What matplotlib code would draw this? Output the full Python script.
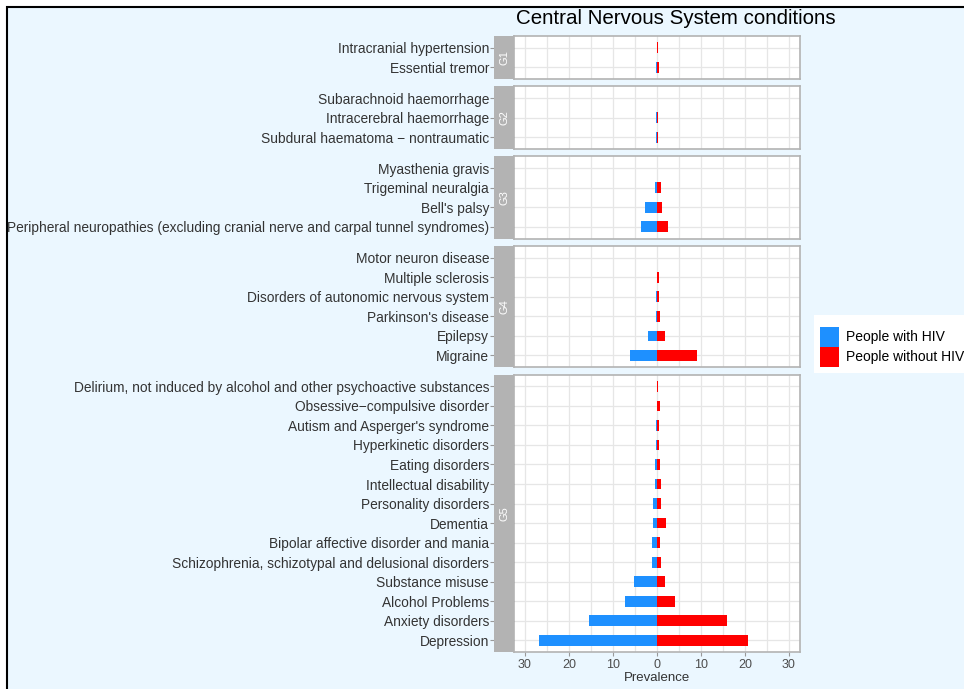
import matplotlib.pyplot as plt
from matplotlib.patches import Rectangle

plt.rcParams['font.family'] = ['Liberation Sans', 'DejaVu Sans']

# --- Data (prevalence, %) ---
groups = ['G1', 'G2', 'G3', 'G4', 'G5']

g1_labels = ['Intracranial hypertension', 'Essential tremor']
g1_hiv = [0.05, 0.2]
g1_nohiv = [0.15, 0.4]

g2_labels = ['Subarachnoid haemorrhage', 'Intracerebral haemorrhage',
             'Subdural haematoma \u2212 nontraumatic']
g2_hiv = [0.03, 0.2, 0.2]
g2_nohiv = [0.1, 0.15, 0.15]

g3_labels = ['Myasthenia gravis', 'Trigeminal neuralgia', "Bell's palsy",
             'Peripheral neuropathies (excluding cranial nerve and carpal tunnel syndromes)']
g3_hiv = [0.03, 0.5, 2.7, 3.6]
g3_nohiv = [0.1, 1.0, 1.1, 2.4]

g4_labels = ['Motor neuron disease', 'Multiple sclerosis',
             'Disorders of autonomic nervous system', "Parkinson's disease",
             'Epilepsy', 'Migraine']
g4_hiv = [0.05, 0.05, 0.2, 0.2, 2.0, 6.1]
g4_nohiv = [0.05, 0.45, 0.45, 0.7, 1.9, 9.0]

g5_labels = ['Delirium, not induced by alcohol and other psychoactive substances',
             'Obsessive\u2212compulsive disorder', "Autism and Asperger's syndrome",
             'Hyperkinetic disorders', 'Eating disorders', 'Intellectual disability',
             'Personality disorders', 'Dementia', 'Bipolar affective disorder and mania',
             'Schizophrenia, schizotypal and delusional disorders', 'Substance misuse',
             'Alcohol Problems', 'Anxiety disorders', 'Depression']
g5_hiv = [0.05, 0.1, 0.3, 0.25, 0.45, 0.45, 0.8, 0.8, 1.1, 1.2, 5.2, 7.3, 15.5, 26.9]
g5_nohiv = [0.15, 0.7, 0.45, 0.45, 0.6, 1.0, 0.8, 2.0, 0.6, 1.0, 1.9, 4.2, 15.8, 20.6]

panels = [
    (g1_labels, g1_hiv, g1_nohiv),
    (g2_labels, g2_hiv, g2_nohiv),
    (g3_labels, g3_hiv, g3_nohiv),
    (g4_labels, g4_hiv, g4_nohiv),
    (g5_labels, g5_hiv, g5_nohiv),
]

blue = '#1E90FF'
red = '#FF0000'
bg = '#EBF7FF'
border = '#B3B3B3'
grid_c = '#E6E6E6'

fig = plt.figure(figsize=(9.64, 6.89), dpi=100, facecolor='white')
fig.patches.append(Rectangle((7 / 964, -0.01), 1.0, 1 - 7 / 689 + 0.01,
                             transform=fig.transFigure, facecolor=bg,
                             edgecolor='black', linewidth=1.5, zorder=-10))

heights = [len(p[0]) + 0.2 for p in panels]
gs = fig.add_gridspec(len(panels), 1, height_ratios=heights,
                      left=514 / 964, right=800 / 964,
                      top=1 - 36 / 689, bottom=1 - 652 / 689, hspace=0.064)

for i, (labels, hiv, nohiv) in enumerate(panels):
    ax = fig.add_subplot(gs[i])
    n = len(labels)
    pos = list(range(n))
    ax.barh(pos, [-v for v in hiv], height=0.55, color=blue, zorder=3)
    ax.barh(pos, nohiv, height=0.55, color=red, zorder=3)
    ax.set_xlim(-32.5, 32.5)
    ax.set_ylim(n - 0.4, -0.6)
    ax.set_yticks(pos)
    ax.set_yticklabels(labels, fontsize=9.9, color='#333333')
    ax.set_xticks([-30, -20, -10, 0, 10, 20, 30])
    ax.set_xticks([-25, -15, -5, 5, 15, 25], minor=True)
    ax.grid(True, which='both', axis='x', color=grid_c, linewidth=0.9, zorder=0)
    ax.grid(True, which='major', axis='y', color=grid_c, linewidth=0.9, zorder=0)
    ax.set_axisbelow(True)
    for sp in ax.spines.values():
        sp.set_color(border)
        sp.set_linewidth(1.2)
    # long ticks, partly hidden under the strip
    ax.tick_params(axis='y', length=17, color='#999999', pad=1)
    ax.tick_params(axis='x', which='minor', length=0)
    if i < len(panels) - 1:
        ax.tick_params(axis='x', which='major', length=0, labelbottom=False)
    else:
        ax.set_xticklabels(['30', '20', '10', '0', '10', '20', '30'])
        ax.tick_params(axis='x', which='major', length=3, color='#999999',
                       labelsize=9, labelcolor='#4D4D4D', pad=2)
        ax.set_xlabel('Prevalence', fontsize=9.5, color='#333333', labelpad=1)
    # strip on the left
    strip_w = 20 / 286
    ax.add_patch(Rectangle((-strip_w, 0), strip_w, 1, transform=ax.transAxes,
                           facecolor='#B3B3B3', edgecolor='none', clip_on=False, zorder=5))
    ax.text(-strip_w / 2, 0.5, groups[i], transform=ax.transAxes, rotation=90,
            ha='center', va='center', color='white', fontsize=8, zorder=6)

fig.text(676 / 964, 1 - 19 / 689, 'Central Nervous System conditions',
         ha='center', va='center', fontsize=14.8, color='black')

# legend
fig.patches.append(Rectangle((814 / 964, 1 - 373 / 689), 150 / 964, 58 / 689,
                             transform=fig.transFigure, facecolor='white',
                             edgecolor='none', zorder=1))
fig.patches.append(Rectangle((820 / 964, 1 - 347 / 689), 19 / 964, 20 / 689,
                             transform=fig.transFigure, facecolor=blue,
                             edgecolor='none', zorder=2))
fig.patches.append(Rectangle((820 / 964, 1 - 367 / 689), 19 / 964, 20 / 689,
                             transform=fig.transFigure, facecolor=red,
                             edgecolor='none', zorder=2))
fig.text(846 / 964, 1 - 337 / 689, 'People with HIV', ha='left', va='center',
         fontsize=10, color='black')
fig.text(846 / 964, 1 - 357 / 689, 'People without HIV', ha='left', va='center',
         fontsize=10, color='black')

fig.savefig('out.png', dpi=100, facecolor=fig.get_facecolor())
